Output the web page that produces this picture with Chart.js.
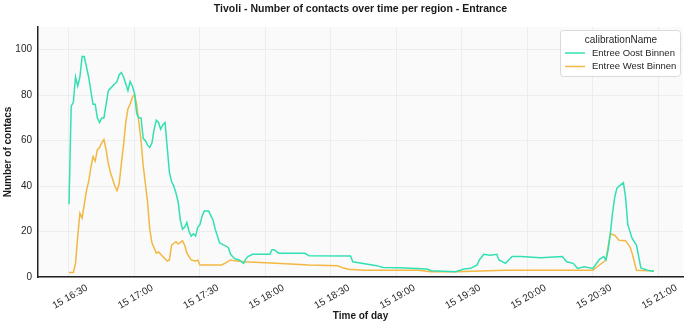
<!DOCTYPE html>
<html><head><meta charset="utf-8">
<script src="https://cdn.jsdelivr.net/npm/chart.js@4/dist/chart.umd.min.js"></script>
<style>html,body{margin:0;padding:0;background:#fff}</style>
</head><body>
<canvas id="c" width="689" height="325"></canvas>
<script>
// ---- data ----
const seriesNames = ["Entree Oost Binnen", "Entree West Binnen"];
const ostTimes = ["16:30","16:31","16:32","16:33","16:34","16:35","16:36","16:37","16:39","16:40","16:41","16:42","16:43","16:44","16:45","16:46","16:47","16:48","16:49","16:51","16:52","16:53","16:54","16:55","16:56","16:57","16:58","16:59","17:00","17:01","17:02","17:03","17:04","17:05","17:06","17:07","17:08","17:09","17:10","17:11","17:12","17:13","17:14","17:15","17:16","17:17","17:18","17:19","17:20","17:21","17:22","17:23","17:24","17:25","17:26","17:27","17:28","17:29","17:30","17:31","17:32","17:34","17:35","17:36","17:37","17:38","17:39","17:41","17:43","17:44","17:46","17:48","17:50","17:51","17:52","17:54","17:58","18:02","18:03","18:04","18:06","18:18","18:20","18:39","18:40","18:51","18:54","19:01","19:14","19:16","19:27","19:31","19:34","19:37","19:38","19:40","19:43","19:46","19:47","19:50","19:51","19:53","19:57","20:06","20:16","20:18","20:21","20:23","20:26","20:30","20:33","20:35","20:36","20:37","20:38","20:39","20:40","20:41","20:42","20:44","20:45","20:46","20:48","20:49","20:50","20:52","20:55","20:58"];
const ostValues = [32,75,77,88,84,88,97,97,88,82,76,76,70,68,70,70,76,82,83,85,86,89,90,88,85,82,86,84,81,72,70,70,61,60,58,57,59,65,69,68,65,67,68,57,46,42,40,37,33,25,21,22,24,20,18,19,18,22,23,27,29,29,27,25,21,18,15,14,13,10,8,7.5,6,8,9,10,10,10,12,12,10.5,10.4,9.4,9.2,6.7,5,4.2,4.1,3.5,2.8,2.3,3.5,3.8,5.3,7.5,10,9.6,10,7.5,6,7,9,9,8.5,9,6.7,6,3.8,4.5,3.8,7.8,9,7.5,12,19,28,35,39,40,41.5,35,23,17,15.5,14,4,3,2.5];
const westTimes = ["16:30","16:32","16:33","16:34","16:35","16:36","16:37","16:38","16:39","16:40","16:41","16:42","16:43","16:44","16:45","16:46","16:47","16:48","16:49","16:50","16:51","16:52","16:53","16:54","16:55","16:56","16:57","16:58","16:59","17:00","17:01","17:02","17:03","17:04","17:05","17:06","17:07","17:08","17:10","17:11","17:13","17:15","17:16","17:17","17:19","17:20","17:22","17:23","17:24","17:26","17:28","17:29","17:30","17:40","17:42","17:44","17:46","17:50","18:05","18:20","18:33","18:35","18:38","18:45","19:10","19:16","19:27","19:50","20:30","20:32","20:35","20:36","20:38","20:40","20:42","20:45","20:47","20:48","20:50","20:58"];
const westValues = [2,2,6,18,28,26,32,38,42,48,53,51,56,57,59,60.5,56,50,46,43,40,38,41,50,58,68,74,76,79,80.5,76,68,60,49,41,33,21,15,10.5,11,9,7,7.5,14,15.5,14.5,16,14,10.5,7.5,7,7.5,5.3,5.3,6.3,7.5,7.1,6.7,6,5.3,5,4.2,3.4,3,3,2.3,2.3,3,3,4.5,6.7,7.5,19,18.4,16.2,16,13.3,10.4,3,2.6];
const xTickLabels = ["16:30","17:00","17:30","18:00","18:30","19:00","19:30","20:00","20:30","21:00"];
const yTickValues = [0,20,40,60,80,100];

const colors = ["#33e0b4", "#f3b843"];
const FONT = "'Liberation Sans', Arial, sans-serif";

function toMin(s){ const p = s.split(":"); return (+p[0])*60 + (+p[1]); }
function fmt(v){ const h = Math.floor(v/60), m = Math.round(v - h*60); return "15 " + h + ":" + String(m).padStart(2,"0"); }

const bgPlugin = {
  id: "bg",
  beforeDraw(chart){
    const a = chart.chartArea, ctx = chart.ctx;
    ctx.save(); ctx.fillStyle = "#fafafa";
    ctx.fillRect(a.left, a.top, a.right - a.left, a.bottom - a.top);
    ctx.restore();
  }
};
const legendPlugin = {
  id: "customLegend",
  afterDraw(chart){
    const ctx = chart.ctx;
    const a = chart.chartArea;
    const x0 = a.right - 123, y0 = a.top + 3, w = 120, h = 46;
    ctx.save();
    ctx.fillStyle = "rgba(255,255,255,0.85)";
    ctx.strokeStyle = "#dadada"; ctx.lineWidth = 1;
    ctx.beginPath(); ctx.roundRect(x0 + 0.5, y0 + 0.5, w, h, 3); ctx.fill(); ctx.stroke();
    ctx.fillStyle = "#262626"; ctx.font = "10px " + FONT;
    ctx.textAlign = "center"; ctx.textBaseline = "middle";
    ctx.fillText("calibrationName", x0 + w/2 + 1, y0 + 10);
    ctx.font = "9.5px " + FONT;
    chart.data.datasets.forEach((ds, i) => {
      const yy = y0 + 23 + i*13.5;
      ctx.strokeStyle = ds.borderColor; ctx.lineWidth = 1.5;
      ctx.beginPath(); ctx.moveTo(x0 + 5, yy); ctx.lineTo(x0 + 25, yy); ctx.stroke();
      ctx.fillStyle = "#262626"; ctx.textAlign = "left";
      ctx.fillText(ds.label, x0 + 32, yy);
    });
    ctx.restore();
  }
};

new Chart(document.getElementById("c"), {
  type: "line",
  data: {
    datasets: [
      { label: seriesNames[0], data: ostTimes.map((t,i)=>({x: toMin(t), y: ostValues[i]})), borderColor: colors[0], backgroundColor: colors[0], borderWidth: 1.5, pointRadius: 0, tension: 0 },
      { label: seriesNames[1], data: westTimes.map((t,i)=>({x: toMin(t), y: westValues[i]})), borderColor: colors[1], backgroundColor: colors[1], borderWidth: 1.5, pointRadius: 0, tension: 0 }
    ]
  },
  options: {
    responsive: false, animation: false, devicePixelRatio: 1,
    layout: { padding: { left: 0, right: 6, top: 0, bottom: 0 } },
    plugins: {
      legend: { display: false }, tooltip: { enabled: false },
      title: { display: true, fullSize: false, text: "Tivoli - Number of contacts over time per region - Entrance", color: "#1a1a1a",
        font: { family: FONT, size: 10.5, weight: "bold" }, padding: { top: 3, bottom: 11.4 } }
    },
    scales: {
      x: {
        type: "linear", min: 975.8, max: 1271.3,
        afterBuildTicks(s){ s.ticks = xTickLabels.map(l => ({ value: toMin(l) })); },
        afterFit(s){ s.height = 48; },
        ticks: { callback: v => fmt(v), minRotation: 30, maxRotation: 30, autoSkip: false, labelOffset: 18, padding: 5, color: "#262626", font: { family: FONT, size: 10 } },
        grid: { color: "#ededed", drawTicks: false, lineWidth: 1 },
        border: { color: "#222", width: 1.5 },
        title: { display: true, text: "Time of day", color: "#1a1a1a", font: { family: FONT, size: 10, weight: "bold" }, padding: { top: 0, bottom: 3 } }
      },
      y: {
        min: 0, max: 110,
        afterBuildTicks(s){ s.ticks = yTickValues.map(v => ({ value: v })); },
        afterFit(s){ s.width = 38; },
        ticks: { padding: 6, color: "#262626", font: { family: FONT, size: 10 } },
        grid: { color: "#ededed", drawTicks: false, lineWidth: 1 },
        border: { color: "#222", width: 1.5 },
        title: { display: true, text: "Number of contacs", color: "#1a1a1a", font: { family: FONT, size: 10, weight: "bold" }, padding: { top: 2, bottom: 0 } }
      }
    }
  },
  plugins: [bgPlugin, legendPlugin]
});
</script>
</body></html>
